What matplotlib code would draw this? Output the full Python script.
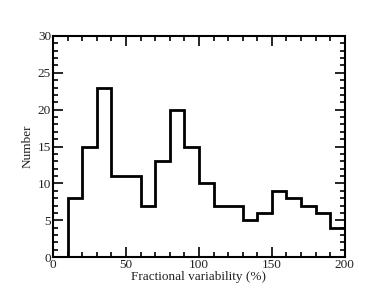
import numpy as np
import matplotlib
matplotlib.use('Agg')
import matplotlib.pyplot as plt
from matplotlib.ticker import MultipleLocator

plt.rcParams['font.family'] = ['Liberation Serif', 'DejaVu Serif']

# histogram of fractional variability, bins of 10 %
bin_edges = list(range(0, 210, 10))
counts = [0, 8, 15, 23, 11, 11, 7, 13, 20, 15, 10, 7, 7, 5, 6, 9, 8, 7, 6, 4]

fig = plt.figure(figsize=(3.74, 2.99), dpi=100)
ax = fig.add_axes([0.142, 0.140, 0.780, 0.740])

ax.stairs(counts, bin_edges, color='black', linewidth=2.0)

ax.set_xlim(0, 200)
ax.set_ylim(0, 30)
ax.xaxis.set_major_locator(MultipleLocator(50))
ax.xaxis.set_minor_locator(MultipleLocator(10))
ax.yaxis.set_major_locator(MultipleLocator(5))
ax.yaxis.set_minor_locator(MultipleLocator(1))
ax.tick_params(which='both', direction='in', top=True, right=True,
               labelsize=9.5, pad=1.5, width=1.2, labelcolor='#222222')
ax.tick_params(which='major', length=7)
ax.tick_params(which='minor', length=3.5)
for s in ax.spines.values():
    s.set_linewidth(1.5)

ax.set_xlabel('Fractional variability (%)', fontsize=9.5, labelpad=0, color='#222222')
ax.set_ylabel('Number', fontsize=9.5, labelpad=3, color='#222222')

fig.savefig('out.png', dpi=100)
